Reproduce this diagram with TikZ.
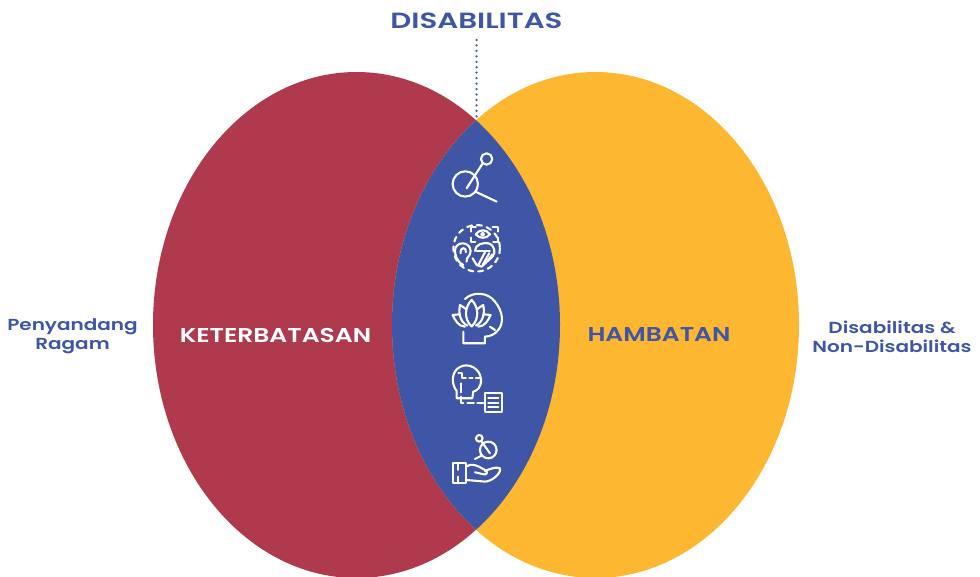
\documentclass[tikz,border=0pt]{standalone}
\usepackage{fontspec}
\newfontfamily\labelfont[FakeStretch=1.25]{Poppins SemiBold}
\newfontfamily\titlefont[FakeStretch=1.33]{Poppins SemiBold}
\definecolor{setred}{HTML}{AF3A4E}
\definecolor{setyellow}{HTML}{FDB731}
\definecolor{setblue}{HTML}{3F55A5}
\tikzset{
  biglabel/.style={font=\labelfont\fontsize{20}{20}\selectfont},
  sidelabel/.style={font=\labelfont\fontsize{16}{19}\selectfont, text=setblue, align=center},
  iconline/.style={draw=white, line width=2.1pt, line cap=round, line join=round},
  icondash/.style={iconline, dash pattern=on 5pt off 5pt}
}
\def\setleft{(356.5,325) ellipse [x radius=203.5, y radius=253]}
\def\setright{(595.5,325) ellipse [x radius=203.5, y radius=253]}
\begin{document}
\begin{tikzpicture}[x=1pt,y=-1pt]
\useasboundingbox (0,0) rectangle (980,577);
\begin{scope}
\clip (0,0) rectangle (980,577);
\fill[setred] \setleft;
\fill[setyellow] \setright;
\clip \setleft;
\fill[setblue] \setright;
\end{scope}

\node[font=\titlefont\fontsize{22}{22}\selectfont, text=setblue] (disabilitas) at (476.5,20.5) {DISABILITAS};
\node[biglabel, text=white] (keterbatasan) at (275.5,335) {KETERBATASAN};
\node[biglabel, text=setblue] (hambatan) at (659,335) {HAMBATAN};
\node[sidelabel] (ragam) at (72.5,336.5) {Penyandang\\Ragam};
\node[sidelabel] (nondisabilitas) at (892,336.5) {Disabilitas \&\\Non-Disabilitas};

\coordinate (dottop) at (476.5,40);
\coordinate (lenstop) at (476.5,120);
\draw[setblue, line width=2.5pt, line cap=round, dash pattern=on 0pt off 5.45pt] (dottop) -- (lenstop);

% wheelchair
\begin{scope}[shift={(430,140)}, x=0.333pt, y=-0.333pt]
\draw[iconline] (106,132) circle [radius=38];
\draw[iconline] (170,57) circle [radius=17];
\draw[iconline] (110,145) -- (157,72);
\draw[iconline] (136,155) -- (200,185);
\end{scope}

% senses
\begin{scope}[shift={(430,215)}, x=0.333pt, y=-0.333pt]
\draw[icondash] (140,100) circle [radius=70];
\draw[iconline] (122,50) -- (122,35) -- (138,35);
\draw[iconline] (188,35) -- (205,35) -- (205,50);
\draw[iconline] (122,68) -- (122,82) -- (136,82);
\draw[iconline] (205,68) -- (205,82) -- (190,82);
\draw[iconline] (137,58) .. controls (150,42) and (168,42) .. (180,58) .. controls (168,72) and (150,72) .. (137,58);
\fill[white] (158,58) circle [radius=7];
% ear
\draw[iconline] (100,150) .. controls (80,140) and (75,120) .. (75,105) .. controls (78,78) and (120,78) .. (122,108) .. controls (122,125) and (108,125) .. (110,140);
\draw[iconline] (92,115) .. controls (90,95) and (110,95) .. (108,112);
% hand
\draw[iconline] (135,108) .. controls (135,88) and (160,82) .. (175,85) .. controls (195,90) and (198,115) .. (188,125) -- (155,155) -- (140,150) -- (128,130);
\draw[iconline] (145,150) -- (165,112);
\draw[iconline] (158,150) -- (178,115);
\draw[iconline] (172,138) -- (188,118);
\draw[iconline] (140,108) -- (180,108);
\end{scope}

% lotus head
\begin{scope}[shift={(430,285)}, x=0.333pt, y=-0.333pt]
\draw[iconline] (105,42) .. controls (130,18) and (175,22) .. (195,50) .. controls (220,80) and (222,115) .. (205,135) .. controls (195,148) and (180,155) .. (165,155) -- (165,175) -- (100,175) -- (100,140);
\draw[iconline] (180,125) -- (195,135);
\draw[iconline] (125,125) .. controls (100,100) and (105,65) .. (125,45) .. controls (145,65) and (150,100) .. (125,125);
\draw[iconline] (112,122) .. controls (90,110) and (85,85) .. (90,60) -- (108,72);
\draw[iconline] (138,122) .. controls (160,110) and (165,85) .. (160,60) -- (142,72);
\draw[iconline] (105,125) .. controls (85,125) and (75,105) .. (68,90) -- (90,88);
\draw[iconline] (145,125) .. controls (165,125) and (175,105) .. (182,90) -- (160,88);
\end{scope}

% head and document
\begin{scope}[shift={(430,355)}, x=0.333pt, y=-0.333pt]
\draw[iconline] (80,108) .. controls (62,85) and (65,48) .. (90,36) .. controls (115,22) and (150,40) .. (153,72) .. controls (155,95) and (142,108) .. (130,110) -- (127,130) -- (80,130) -- cycle;
\draw[iconline] (85,55) -- (95,55) -- (95,68) -- (108,68);
\draw[iconline] (118,68) -- (128,68);
\draw[iconline] (138,68) -- (150,68);
\draw[iconline] (92,85) -- (92,112);
\draw[iconline] (92,125) -- (92,143) -- (100,143);
\draw[iconline] (112,143) -- (132,143);
\draw[iconline] (142,143) -- (160,143);
\draw[iconline] (165,115) rectangle (215,172);
\draw[iconline] (175,128) -- (205,128);
\draw[iconline] (175,143) -- (205,143);
\draw[iconline] (175,157) -- (205,157);
\end{scope}

% hand and wheelchair
\begin{scope}[shift={(430,425)}, x=0.333pt, y=-0.333pt]
\draw[iconline] (148,40) circle [radius=10];
\draw[iconline] (175,75) circle [radius=25];
\draw[iconline] (155,50) -- (180,85);
\draw[iconline] (135,102) -- (155,92);
\draw[iconline] (68,115) rectangle (108,175);
\draw[iconline] (85,118) -- (85,135);
\draw[iconline] (85,155) -- (85,172);
\draw[iconline] (108,125) .. controls (125,115) and (135,118) .. (165,135) .. controls (175,142) and (172,150) .. (160,148) -- (135,142);
\draw[iconline] (165,138) .. controls (185,130) and (200,125) .. (210,130) .. controls (215,145) and (185,170) .. (165,170) -- (108,165);
\end{scope}
\end{tikzpicture}
\end{document}
